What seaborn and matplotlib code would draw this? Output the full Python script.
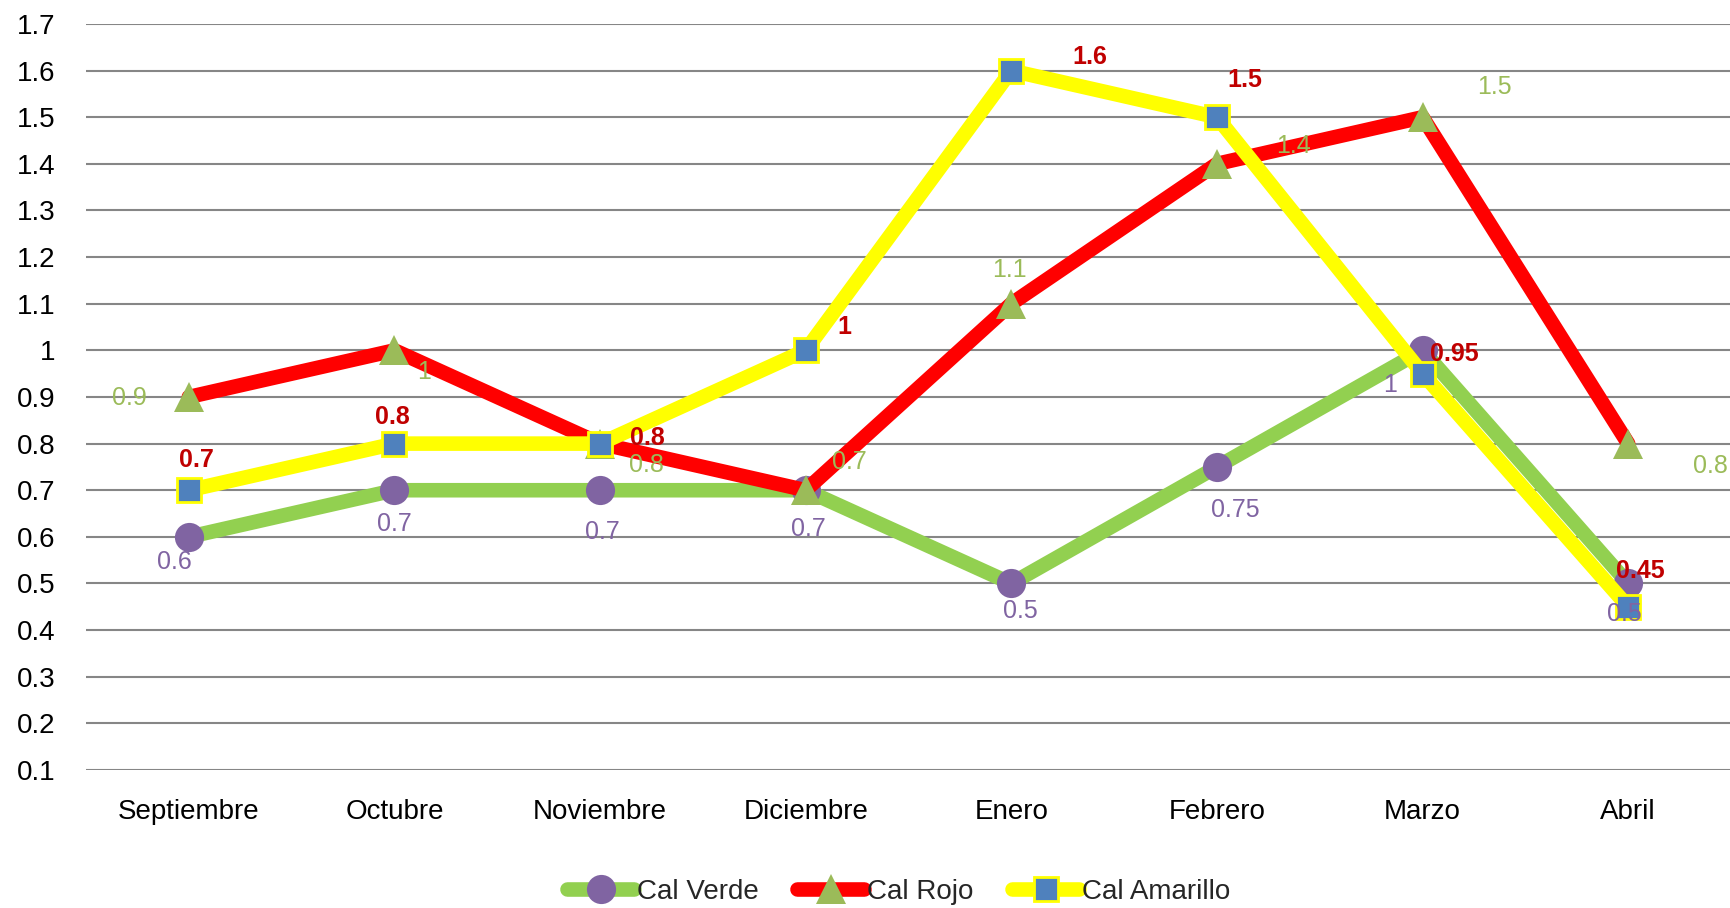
import matplotlib
matplotlib.use('Agg')
import matplotlib.pyplot as plt
import seaborn as sns
import pandas as pd

meses = ['Septiembre', 'Octubre', 'Noviembre', 'Diciembre', 'Enero', 'Febrero', 'Marzo', 'Abril']
cal_verde = [0.6, 0.7, 0.7, 0.7, 0.5, 0.75, 1, 0.5]
cal_rojo = [0.9, 1, 0.8, 0.7, 1.1, 1.4, 1.5, 0.8]
cal_amarillo = [0.7, 0.8, 0.8, 1, 1.6, 1.5, 0.95, 0.45]
y_ticks = [0.1, 0.2, 0.3, 0.4, 0.5, 0.6, 0.7, 0.8, 0.9, 1.0, 1.1, 1.2, 1.3, 1.4, 1.5, 1.6, 1.7]

# label offsets in pixels (dx, dy with y going down), as placed in the original
off_verde = [(-14, 25), (0, 34), (2, 42), (3, 39), (9, 28), (18, 43), (-33, 35), (-4, 31)]
off_rojo = [(-59, 1), (30, 22), (46, 21), (44, -28), (-2, -34), (77, -18), (72, -30), (82, 22)]
off_amarillo = [(8, -30), (-2, -27), (47, -6), (39, -23), (78, -14), (28, -37), (32, -20), (12, -36)]

sns.set_style('white')
plt.rcParams['font.family'] = ['Liberation Sans', 'DejaVu Sans']

fig = plt.figure(figsize=(17.31, 9.08), dpi=100)
ax = fig.add_axes([0.0497, 0.152, 0.9503, 0.8216])

series = [
    ('Cal Verde', cal_verde, '#92D050', 'o', '#8064A2', '#8064A2', 21, off_verde, '#8064A2', 'normal'),
    ('Cal Rojo', cal_rojo, '#FF0000', '^', '#9BBB59', '#9BBB59', 22, off_rojo, '#9BBB59', 'normal'),
    ('Cal Amarillo', cal_amarillo, '#FFFF00', 's', '#4F81BD', '#FFFF00', 17, off_amarillo, '#C00000', 'bold'),
]

for z, (nombre, vals, lc, mk, mfc, mec, ms, offs, tc, fw) in enumerate(series):
    df = pd.DataFrame({'mes': meses, 'valor': vals})
    sns.lineplot(data=df, x='mes', y='valor', ax=ax, color=lc, linewidth=10.5,
                 marker=mk, markerfacecolor=mfc, markeredgecolor=mec,
                 markeredgewidth=2 if mk == 's' else 0, markersize=ms,
                 label=nombre, zorder=3 + z, solid_capstyle='round')
    for i, v in enumerate(vals):
        dx, dy = offs[i]
        ax.annotate('{:g}'.format(v), (i, v), xytext=(dx, -dy), textcoords='offset pixels',
                    ha='center', va='center', fontsize=18, color=tc, fontweight=fw, zorder=10)

ax.set_xlim(-0.5, 7.5)
ax.set_ylim(0.1, 1.7)
ax.set_yticks(y_ticks)
ax.set_yticklabels(['{:g}'.format(t) for t in y_ticks])
ax.grid(axis='y', color='#868686', linewidth=1.5)
ax.grid(axis='x', visible=False)
for s in ax.spines.values():
    s.set_visible(False)
ax.tick_params(axis='both', length=0, labelsize=20, colors='#000000')
ax.tick_params(axis='x', pad=21)
ax.tick_params(axis='y', pad=22)
ax.set_xlabel('')
ax.set_ylabel('')

ax.legend(loc='center', bbox_to_anchor=(0.494, -0.163), ncol=3, frameon=False,
          fontsize=20, handlelength=2.4, columnspacing=1.4, handletextpad=0.1)

fig.savefig('out.png', dpi=100)
